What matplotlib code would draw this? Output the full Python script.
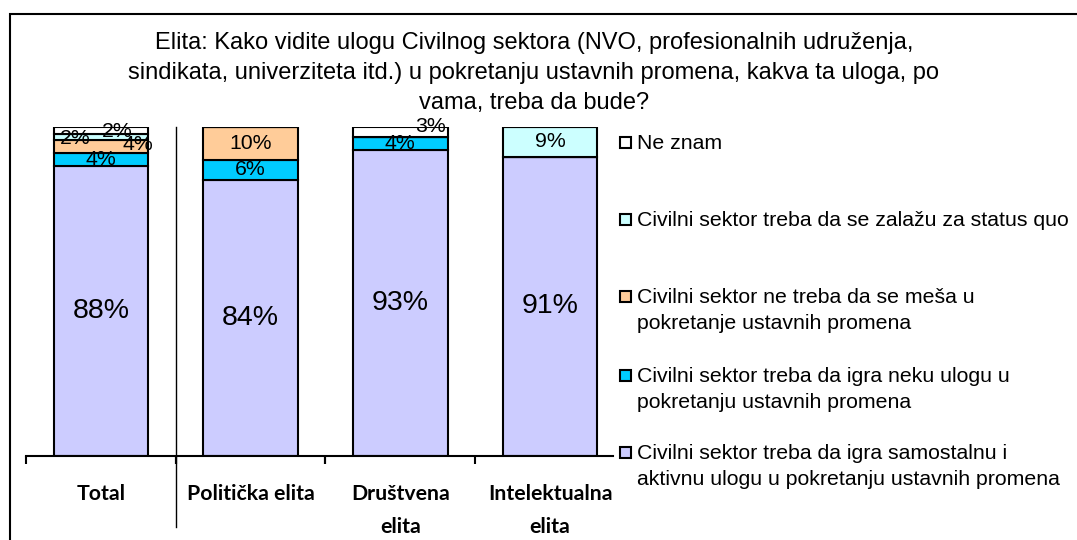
import numpy as np
import matplotlib.pyplot as plt
from matplotlib.patches import Rectangle

# data (shares per group)
groups = ['Total', 'Politička elita', 'Društvena\nelita', 'Intelektualna\nelita']
samostalna = [88, 84, 93, 91]
neka = [4, 6, 4, 0]
ne_mesa = [4, 10, 0, 0]
status_quo = [2, 0, 0, 9]
ne_znam = [2, 0, 3, 0]

series = [samostalna, neka, ne_mesa, status_quo, ne_znam]
series_labels = [
    'Civilni sektor treba da igra samostalnu i\naktivnu ulogu u pokretanju ustavnih promena',
    'Civilni sektor treba da igra neku ulogu u\npokretanju ustavnih promena',
    'Civilni sektor ne treba da se meša u\npokretanje ustavnih promena',
    'Civilni sektor treba da se zalažu za status quo',
    'Ne znam',
]
colors = ['#CCCCFF', '#00CCFF', '#FFCC99', '#CCFFFF', '#FFFFFF']

title = ('Elita: Kako vidite ulogu Civilnog sektora (NVO, profesionalnih udruženja,\n'
         'sindikata, univerziteta itd.) u pokretanju ustavnih promena, kakva ta uloga, po\n'
         'vama, treba da bude?')

# label nudges (pixels) for the crowded small segments: (group, series) -> (dx, dy)
nudge = {(0, 2): (37, 2), (0, 3): (-26, -2), (0, 4): (16, -1), (2, 4): (30, 5)}

plt.rcParams['font.family'] = ['Liberation Sans', 'DejaVu Sans']

W, H = 1077, 540
fig = plt.figure(figsize=(W / 100, H / 100), dpi=100)
ax = fig.add_axes([26 / W, (H - 456) / H, 587 / W, 329 / H])

x = np.arange(len(groups))
bottom = np.zeros(len(groups))
for si, (vals, col) in enumerate(zip(series, colors)):
    vals = np.array(vals, dtype=float)
    ax.bar(x, vals, 0.63, bottom=bottom, color=col, edgecolor='black', linewidth=1.5, zorder=2)
    for gi in range(len(groups)):
        if vals[gi] <= 0:
            continue
        dx, dy = nudge.get((gi, si), (0, 0))
        size = 20.5 if vals[gi] > 50 else 15.3
        ax.annotate(f'{int(vals[gi])}%', (x[gi], bottom[gi] + vals[gi] / 2),
                    xytext=(dx, dy), textcoords='offset pixels',
                    ha='center', va='center', fontsize=size, zorder=3)
    bottom += vals

ax.set_xlim(-0.5, 3.42)
ax.set_ylim(0, 100)
for s in ['left', 'right', 'top']:
    ax.spines[s].set_visible(False)
ax.spines['bottom'].set_linewidth(1.5)
ax.set_yticks([])
ax.set_xticks(x)
ax.set_xticklabels(groups, fontsize=15.3, fontweight='bold', family=['Lato', 'DejaVu Sans'],
                   linespacing=1.8, va='top')
ax.tick_params(axis='x', which='major', length=0, pad=20)
ax.set_xticks(list(x[:-1] - 0.5) + list(x[:-1] + 0.5), minor=True)
ax.tick_params(axis='x', which='minor', length=6, width=1.5, direction='out')

# separator between Total and the elite groups
ax.axvline(0.5, ymin=-0.216, ymax=1.0, color='black', linewidth=1.0, clip_on=False)

fig.text(534 / W, (H - 32) / H, title, ha='center', va='top', fontsize=17, linespacing=1.47)

# legend drawn by hand so the box lines up with the first text line
leg_y = [452, 375, 296, 219, 142]
for lab, col, yy in zip(series_labels, colors, leg_y):
    fig.patches.append(Rectangle((620 / W, (H - yy - 6) / H), 11 / W, 11 / H,
                                 transform=fig.transFigure, facecolor=col,
                                 edgecolor='black', linewidth=1.5))
    fig.text(637 / W, (H - yy + 8) / H, lab, ha='left', va='top', fontsize=15.3,
             linespacing=1.45)

# outer chart frame (clipped at the right and bottom like the original)
fig.patches.append(Rectangle((10 / W, -0.1), 1.2, (H - 14) / H + 0.1,
                             transform=fig.transFigure, fill=False,
                             edgecolor='black', linewidth=1.5))

plt.savefig('out.png', dpi=100)
